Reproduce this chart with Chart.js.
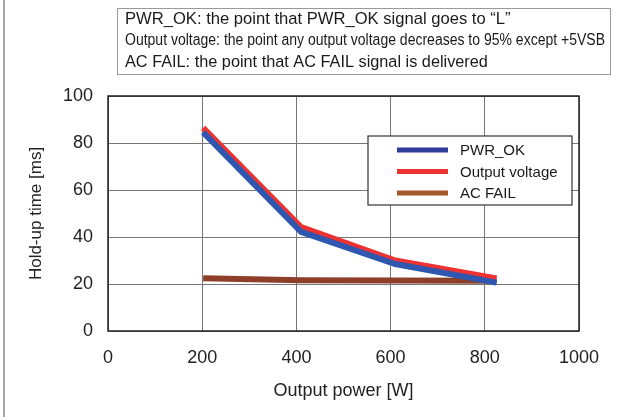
<!DOCTYPE html>
<html>
<head>
<meta charset="utf-8">
<script src="https://cdn.jsdelivr.net/npm/chart.js@4.4.1/dist/chart.umd.min.js"></script>
<style>
  html, body { margin: 0; padding: 0; background: #fff; }
  #wrap { position: relative; width: 640px; height: 417px; }
</style>
</head>
<body>
<div id="wrap"><canvas id="myChart" width="640" height="417"></canvas></div>
<script>
// Output power [W] at which each curve was measured
var power = [202, 410, 610, 825];
// Hold-up time [ms]
var pwrOk = [84.5, 42.2, 28.5, 20.6];
var outputVoltage = [86.4, 44.2, 30.0, 22.4];
var acFail = [22.4, 21.6, 21.5, 21.4];

var seriesNames = ['PWR_OK', 'Output voltage', 'AC FAIL'];
var seriesColors = ['#2f57b0', '#ee3232', '#8e3f2a'];
var legendColors = ['#2e3d99', '#ee3232', '#a5582e'];

var notes = [
  'PWR_OK: the point that PWR_OK signal goes to \u201cL\u201d',
  'Output voltage: the point any output voltage decreases to 95% except +5VSB',
  'AC FAIL: the point that AC FAIL signal is delivered'
];

var xTicks = [0, 200, 400, 600, 800, 1000];
var yTicks = [0, 20, 40, 60, 80, 100];

function points(xs, ys) {
  var out = [];
  for (var i = 0; i < xs.length; i++) out.push({x: xs[i], y: ys[i]});
  return out;
}

var FONT = '"Liberation Sans", Arial, sans-serif';

// black frame round the plot, note box, inner legend, page edge line
var extras = {
  id: 'extras',
  afterDraw: function(chart) {
    var ctx = chart.ctx;
    var a = chart.chartArea;
    ctx.save();

    ctx.strokeStyle = '#222';
    ctx.lineWidth = 1.5;
    ctx.strokeRect(a.left, a.top, a.right - a.left, a.bottom - a.top);

    // page edge on the left
    ctx.strokeStyle = '#888';
    ctx.lineWidth = 1.5;
    ctx.beginPath();
    ctx.moveTo(4, 0);
    ctx.lineTo(4, 417);
    ctx.stroke();

    // note box
    ctx.strokeStyle = '#9a9a9a';
    ctx.lineWidth = 1;
    ctx.strokeRect(117.5, 8.5, 493, 66);
    ctx.fillStyle = '#1a1a1a';
    ctx.textBaseline = 'middle';
    ctx.textAlign = 'left';
    ctx.font = '16.6px ' + FONT;
    ctx.fillText(notes[0], 125, 19);
    ctx.save();
    ctx.font = '16px ' + FONT;
    var w = ctx.measureText(notes[1]).width;
    ctx.translate(125, 41);
    ctx.scale(480 / w, 1);
    ctx.fillText(notes[1], 0, 0);
    ctx.restore();
    ctx.font = '16.3px ' + FONT;
    ctx.fillText(notes[2], 125, 63);

    // legend inside the plot
    var lx = 368, ly = 136, lw = a.right - 7 - 368, lh = 69;
    ctx.fillStyle = '#fff';
    ctx.fillRect(lx, ly, lw, lh);
    ctx.strokeStyle = '#333';
    ctx.lineWidth = 1.2;
    ctx.strokeRect(lx, ly, lw, lh);
    ctx.font = '15px ' + FONT;
    for (var i = 0; i < seriesNames.length; i++) {
      var yy = ly + 14 + i * 21.5;
      ctx.strokeStyle = legendColors[i];
      ctx.lineWidth = 5;
      ctx.beginPath();
      ctx.moveTo(lx + 29, yy);
      ctx.lineTo(lx + 80, yy);
      ctx.stroke();
      ctx.fillStyle = '#1a1a1a';
      ctx.fillText(seriesNames[i], lx + 92, yy + 1);
    }
    ctx.restore();
  }
};

window.onload = function() {
  var ctx = document.getElementById('myChart');
  var chart = new Chart(ctx, {
    type: 'line',
    data: {
      datasets: [
        { label: seriesNames[0], data: points(power, pwrOk), borderColor: seriesColors[0], borderWidth: 6 },
        { label: seriesNames[1], data: points(power, outputVoltage), borderColor: seriesColors[1], borderWidth: 6 },
        { label: seriesNames[2], data: points(power, acFail), borderColor: seriesColors[2], borderWidth: 6 }
      ]
    },
    options: {
      responsive: false,
      animation: false,
      events: [],
      elements: { point: { radius: 0 }, line: { tension: 0, fill: false } },
      layout: { padding: { left: 8, right: 61, top: 96, bottom: 15 } },
      plugins: { legend: { display: false }, tooltip: { enabled: false } },
      scales: {
        x: {
          type: 'linear', min: 0, max: 1000,
          afterBuildTicks: function(s) { s.ticks = xTicks.map(function(v) { return {value: v}; }); },
          afterFit: function(s) { s.height = 71; },
          grid: { color: '#777', lineWidth: 1, drawTicks: false },
          border: { display: false },
          ticks: { padding: 16, color: '#222', font: { family: FONT, size: 18 }, callback: function(v) { return String(v); } },
          title: { display: true, text: 'Output power [W]', color: '#222', font: { family: FONT, size: 18 }, padding: { top: 6, bottom: 0 } }
        },
        y: {
          min: 0, max: 100,
          afterBuildTicks: function(s) { s.ticks = yTicks.map(function(v) { return {value: v}; }); },
          afterFit: function(s) { s.width = 100; },
          grid: { color: '#777', lineWidth: 1, drawTicks: false },
          border: { display: false },
          ticks: { padding: 15, color: '#222', font: { family: FONT, size: 18 } },
          title: { display: true, text: 'Hold-up time [ms]', color: '#222', font: { family: FONT, size: 17 }, padding: { top: 18, bottom: 0 } }
        }
      }
    },
    plugins: [extras]
  });
};
</script>
</body>
</html>
